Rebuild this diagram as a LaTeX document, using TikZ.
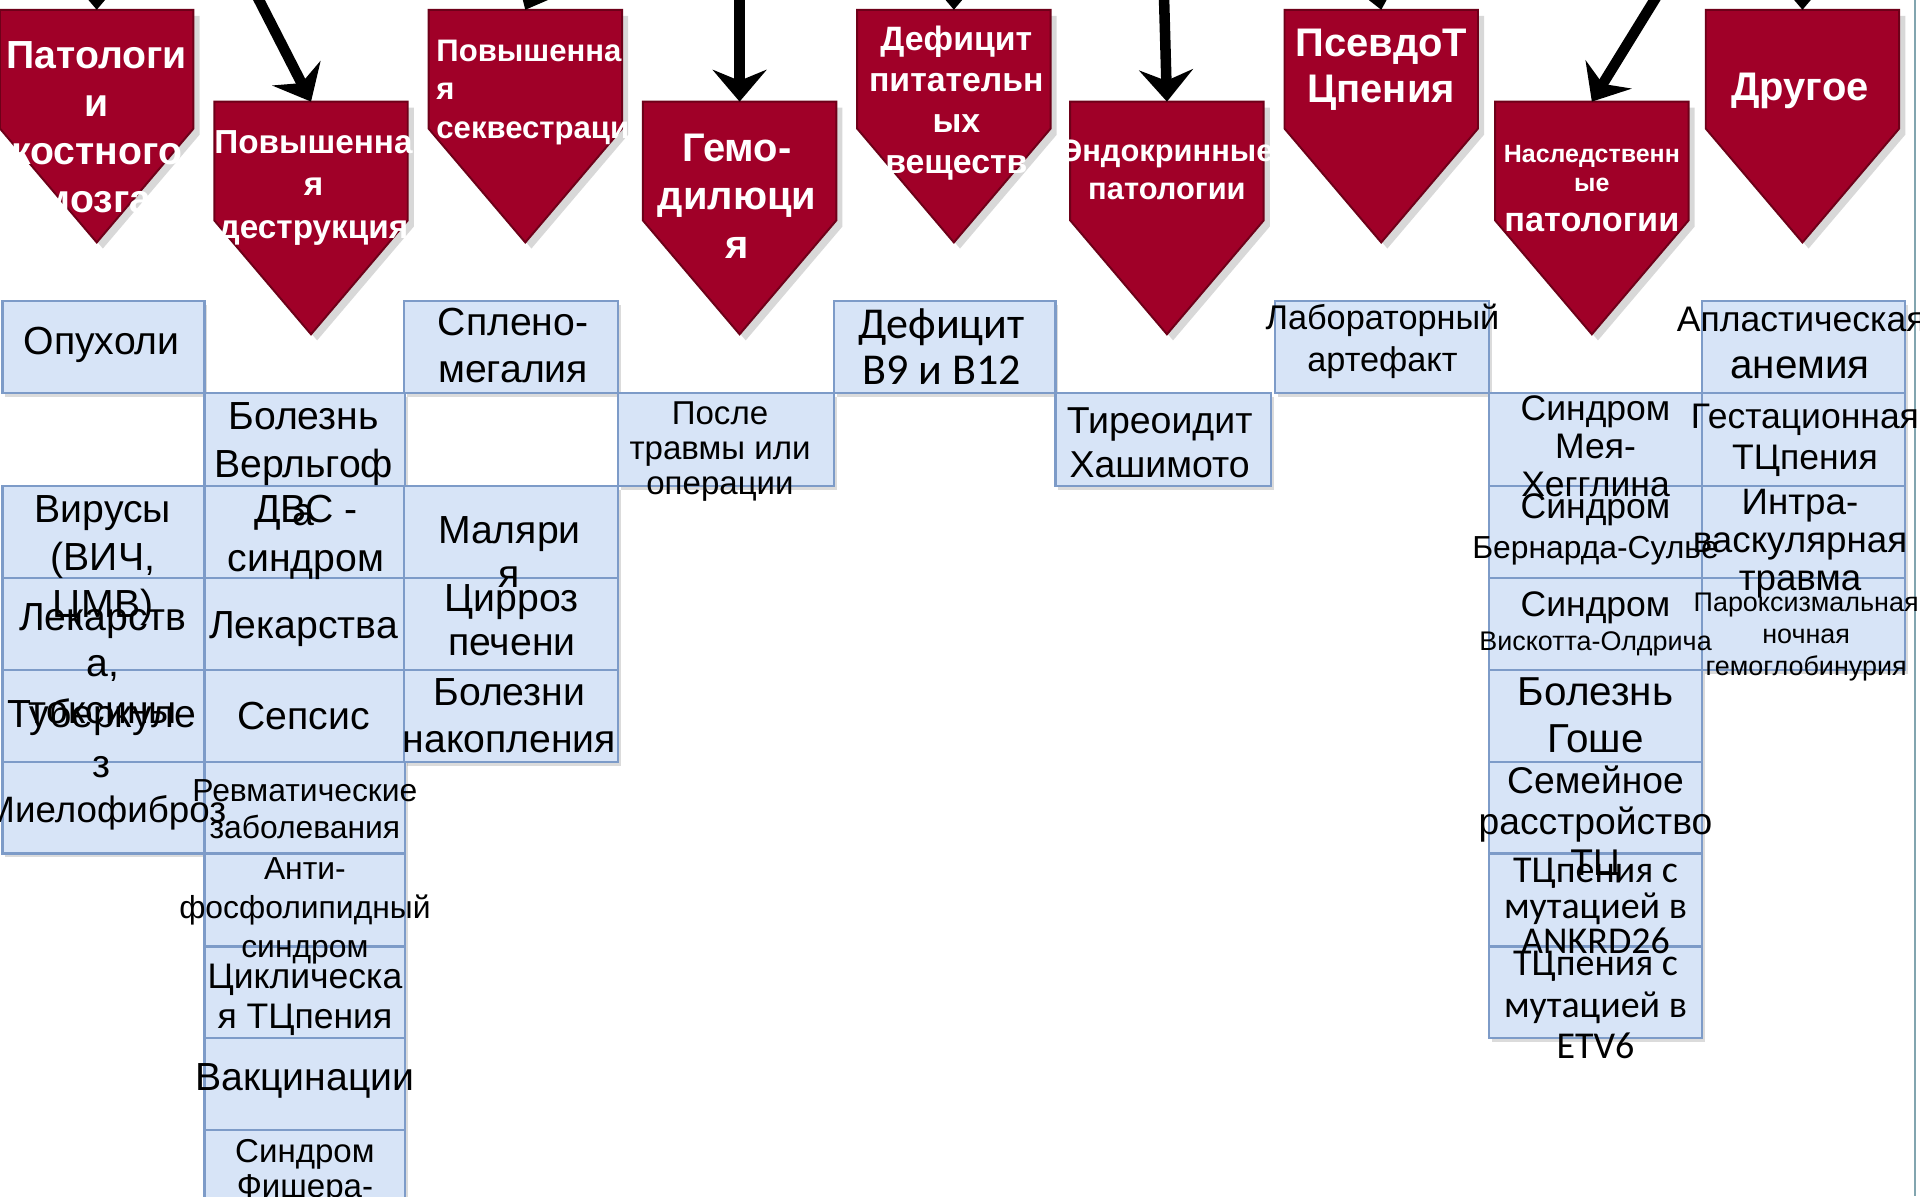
\documentclass[tikz,border=0pt]{standalone}
\usepackage{fontspec}
\setmainfont{Liberation Sans}
\newfontfamily\calfont{Carlito}
\usetikzlibrary{arrows.meta,shadows,fit}
\definecolor{pentred}{RGB}{160,0,40}
\definecolor{pentborder}{RGB}{110,0,25}
\definecolor{cellfill}{RGB}{215,228,247}
\definecolor{cellborder}{RGB}{125,155,200}
\definecolor{edgeline}{RGB}{130,165,175}
\newcommand{\fsz}[2]{\fontsize{#1}{#2}\selectfont}
\begin{document}
\begin{tikzpicture}[x=0.5pt,y=-0.5pt,
  cell/.style={draw=cellborder,fill=cellfill,line width=0.9pt,inner sep=0pt,
    drop shadow={shadow xshift=1.2pt,shadow yshift=-1.6pt,opacity=0.28}},
  txt/.style={align=center,inner sep=0pt,text=black},
  ptxt/.style={align=center,inner sep=0pt,text=white,font=\bfseries},
  pent/.style={fill=pentred,draw=pentborder,line width=0.8pt,
    drop shadow={shadow xshift=2.5pt,shadow yshift=-2.5pt,opacity=0.3}},
  bigarrow/.style={line width=4.3pt,-{Stealth[length=13pt,width=22pt,inset=4.5pt]}}]
\useasboundingbox (0,0) rectangle (1568,977);
\fill[white] (0,0) rectangle (1568,977);
\clip (0,0) rectangle (1568,977);

% pentagons
\foreach \i/\xa/\top in {1/0/8,2/175/83,3/350/8,4/525/83,5/700/8,6/874/83,7/1049/8,8/1221/83,9/1393/8}{
  \pgfmathsetmacro{\xb}{\xa+158}
  \pgfmathsetmacro{\xc}{\xa+79}
  \pgfmathsetmacro{\side}{\top+97}
  \pgfmathsetmacro{\tip}{\top+190}
  \draw[pent] (\xa,\top) -- (\xb,\top) -- (\xb,\side) -- (\xc,\tip) -- (\xa,\side) -- cycle;
  \coordinate (p\i top) at (\xc,\top);
}

% arrows
\coordinate (a1) at (79,-90);
\coordinate (a2) at (190,-42);
\coordinate (a3) at (470,-75);
\coordinate (a4) at (604,-60);
\coordinate (a5) at (779,-90);
\coordinate (a6) at (949,-60);
\coordinate (a7) at (1110,-80);
\coordinate (a8) at (1377,-42);
\coordinate (a9) at (1472,-90);
\foreach \i in {1,...,9}{\draw[bigarrow] (a\i) -- (p\i top);}

% cells column 1
\node[cell,fit={(2,246)(167,321)}] (c11) {};
\node[cell,fit={(2,397)(167,472)}] (c13) {};
\node[cell,fit={(2,472)(167,547)}] (c14) {};
\node[cell,fit={(2,547)(167,622)}] (c15) {};
\node[cell,fit={(2,622)(167,697)}] (c16) {};
% column 2
\node[cell,fit={(167,321)(331,397)}] (c21) {};
\node[cell,fit={(167,397)(331,472)}] (c22) {};
\node[cell,fit={(167,472)(331,547)}] (c23) {};
\node[cell,fit={(167,547)(331,622)}] (c24) {};
\node[cell,fit={(167,622)(331,697)}] (c25) {};
\node[cell,fit={(167,697)(331,773)}] (c26) {};
\node[cell,fit={(167,773)(331,848)}] (c27) {};
\node[cell,fit={(167,848)(331,923)}] (c28) {};
\node[cell,fit={(167,923)(331,999)}] (c29) {};
% column 3
\node[cell,fit={(330,246)(505,321)}] (c31) {};
\node[cell,fit={(330,397)(505,472)}] (c33) {};
\node[cell,fit={(330,472)(505,547)}] (c34) {};
\node[cell,fit={(330,547)(505,622)}] (c35) {};
% columns 4-7
\node[cell,fit={(505,321)(681,397)}] (c41) {};
\node[cell,fit={(681,246)(862,321)}] (c51) {};
\node[cell,fit={(862,321)(1038,397)}] (c61) {};
\node[cell,fit={(1041,246)(1216,321)}] (c71) {};
% column 8
\node[cell,fit={(1216,321)(1390,397)}] (c81) {};
\node[cell,fit={(1216,397)(1390,472)}] (c82) {};
\node[cell,fit={(1216,472)(1390,547)}] (c83) {};
\node[cell,fit={(1216,547)(1390,622)}] (c84) {};
\node[cell,fit={(1216,622)(1390,697)}] (c85) {};
\node[cell,fit={(1216,697)(1390,773)}] (c86) {};
\node[cell,fit={(1216,773)(1390,848)}] (c87) {};
% column 9
\node[cell,fit={(1390,246)(1556,321)}] (c91) {};
\node[cell,fit={(1390,321)(1556,397)}] (c92) {};
\node[cell,fit={(1390,397)(1556,472)}] (c93) {};
\node[cell,fit={(1390,472)(1556,547)}] (c94) {};

% right edge line
\draw[edgeline,line width=0.8pt] (1564,0) coordinate (e1) -- (1564,977) coordinate (e2);

% pentagon texts
\node[ptxt,font=\bfseries\fsz{16pt}{19.5pt}] (pt1) at (79,104) {Патологи\\и\\костного\\мозга};
\node[ptxt,font=\bfseries\fsz{13.6pt}{17.3pt}] (pt2) at (256,153.5) {Повышенна\\я\\деструкция};
\node[ptxt,align=left,anchor=west,font=\bfseries\fsz{12.7pt}{15.8pt}] (pt3) at (356,75.5) {Повышенна\\я\\секвестраци};
\node[ptxt,font=\bfseries\fsz{16.3pt}{19.8pt}] (pt4) at (602,160) {Гемо-\\дилюци\\я};
\node[ptxt,font=\bfseries\fsz{13.8pt}{16.8pt}] (pt5) at (781,84) {Дефицит\\питательн\\ых\\веществ};
\node[ptxt,font=\bfseries\fsz{12.6pt}{15.5pt}] (pt6) at (953,138.5) {Эндокринные\\патологии};
\node[ptxt,font=\bfseries\fsz{16.3pt}{19pt}] (pt7) at (1128,57) {ПсевдоТ\\Цпения};
\node[ptxt,font=\bfseries\fsz{10.2pt}{12pt}] (pt8a) at (1300,137.5) {Наследственн\\ые};
\node[ptxt,font=\bfseries\fsz{14pt}{17pt}] (pt8b) at (1300,182) {патологии};
\node[ptxt,font=\bfseries\fsz{16.3pt}{19pt}] (pt9) at (1470,74) {Другое};

% column 1 texts
\node[txt,font=\fsz{16pt}{19.5pt}] (t11) at (83,282) {Опухоли};
\node[txt,font=\fsz{16pt}{19.5pt}] (t13) at (84,458) {Вирусы\\(ВИЧ,\\ЦМВ)};
\node[txt,font=\fsz{16pt}{19pt}] (t14) at (84,542) {Лекарств\\а,\\токсины};
\node[txt,font=\fsz{16pt}{20.5pt}] (t15) at (83,603) {Туберкуле\\з};
\node[txt,font=\fsz{15pt}{18pt}] (t16) at (86,664) {Миелофиброз};
% column 2 texts
\node[txt,font=\fsz{16pt}{19.5pt}] (t21) at (248,379) {Болезнь\\Верльгоф\\а};
\node[txt,font=\fsz{16pt}{20pt}] (t22) at (250,439) {ДВС -\\синдром};
\node[txt,font=\fsz{16pt}{19pt}] (t23) at (248,514) {Лекарства};
\node[txt,font=\fsz{16pt}{19pt}] (t24) at (248,585) {Сепсис};
\node[txt,font=\fsz{13pt}{15pt}] (t25) at (249,661) {Ревматические\\заболевания};
\node[txt,font=\fsz{13pt}{16pt}] (t26) at (249,744) {Анти-\\фосфолипидный\\синдром};
\node[txt,font=\fsz{14.5pt}{16.5pt}] (t27) at (249,816.5) {Циклическа\\я ТЦпения};
\node[txt,font=\fsz{16pt}{19pt}] (t28) at (249,883) {Вакцинации};
\node[txt,font=\fsz{13.5pt}{14.5pt}] (t29) at (249,957) {Синдром\\Фишера-};
% column 3 texts
\node[txt,font=\fsz{16pt}{19pt}] (t31) at (419,282) {Сплено-\\мегалия};
\node[txt,font=\fsz{16pt}{18pt}] (t33) at (416,450.5) {Маляри\\я};
\node[txt,font=\fsz{16pt}{18pt}] (t34) at (418,506.5) {Цирроз\\печени};
\node[txt,font=\fsz{16pt}{19pt}] (t35) at (416,584.5) {Болезни\\накопления};
% columns 4-7 texts
\node[txt,font=\fsz{13.5pt}{14.3pt}] (t41) at (588,368.5) {После\\травмы или\\операции};
\node[txt,font=\calfont\fsz{18pt}{19pt}] (t51) at (769,283) {Дефицит\\B9 и B12};
\node[txt,font=\fsz{15.3pt}{18pt}] (t61) at (947,361.5) {Тиреоидит\\Хашимото};
\node[txt,font=\fsz{14pt}{17pt}] (t71) at (1129,279) {Лабораторный\\артефакт};
% column 8 texts
\node[txt,font=\fsz{14.5pt}{15.5pt}] (t81) at (1303,364.5) {Синдром\\Мея-\\Хегглина};
\node[txt,font=\fsz{14.5pt}{16pt}] (t82a) at (1303,416) {Синдром};
\node[txt,font=\fsz{13pt}{15pt}] (t82b) at (1303,450) {Бернарда-Сулье};
\node[txt,font=\fsz{14.5pt}{16pt}] (t83a) at (1303,496) {Синдром};
\node[txt,font=\fsz{11pt}{13pt}] (t83b) at (1303,526) {Вискотта-Олдрича};
\node[txt,font=\fsz{16.5pt}{19pt}] (t84) at (1303,584) {Болезнь\\Гоше};
\node[txt,font=\fsz{15.2pt}{16.8pt}] (t85) at (1303,673.5) {Семейное\\расстройство\\ТЦ};
\node[txt,font=\calfont\fsz{15.5pt}{14.5pt}] (t86) at (1303,740) {ТЦпения с\\мутацией в\\ANKRD26};
\node[txt,font=\calfont\fsz{15.5pt}{17pt}] (t87) at (1303,821) {ТЦпения с\\мутацией в\\ETV6};
% column 9 texts
\node[txt,font=\fsz{14.5pt}{16pt}] (t91a) at (1471,261) {Апластическая};
\node[txt,font=\fsz{16.5pt}{18pt}] (t91b) at (1470,300) {анемия};
\node[txt,font=\fsz{14.5pt}{17pt}] (t92) at (1474,359.5) {Гестационная\\ТЦпения};
\node[txt,font=\fsz{15pt}{15.5pt}] (t93) at (1470,444) {Интра-\\васкулярная\\травма};
\node[txt,font=\fsz{11pt}{13pt}] (t94) at (1475,520) {Пароксизмальная\\ночная\\гемоглобинурия};
\end{tikzpicture}
\end{document}
